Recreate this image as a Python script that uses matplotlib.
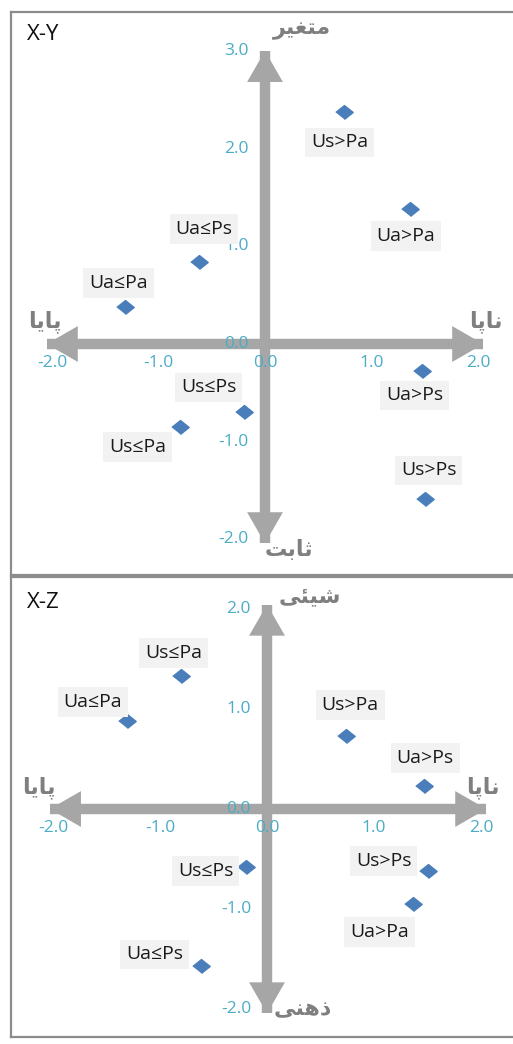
import matplotlib.pyplot as plt

# scores of the eight groups (X is shared by both panels)
names = ["Us>Pa", "Ua>Pa", "Ua≤Ps", "Ua≤Pa", "Ua>Ps", "Us≤Ps", "Us≤Pa", "Us>Ps"]
x_vals = [0.74, 1.36, -0.62, -1.31, 1.47, -0.20, -0.80, 1.50]
y_vals = [2.37, 1.38, 0.84, 0.38, -0.28, -0.70, -0.85, -1.59]
z_vals = [0.73, -0.95, -1.57, 0.88, 0.23, -0.58, 1.33, -0.62]

x_ticks = [-2.0, -1.0, 0.0, 1.0, 2.0]
y_ticks = [3.0, 2.0, 1.0, 0.0, -1.0, -2.0]
z_ticks = [2.0, 1.0, 0.0, -1.0, -2.0]

# pole names: left, right, top, bottom
xy_poles = ["پایا", "ناپا", "متغیر", "ثابت"]
xz_poles = ["پایا", "ناپا", "شیئی", "ذهنی"]

# label offsets from each point, in pixels (right, up)
xy_offsets = [(-4, -30), (-4, -27), (5, 33), (-7, 24), (-7, -24), (-35, 25), (-42, -20), (4, 29)]
xz_offsets = [(4, 31), (-33, -28), (-46, 12), (-34, 19), (1, 28), (-40, -4), (-8, 23), (-44, 10)]

AXIS_GRAY = '#a6a6a6'
TICK_BLUE = '#4bacc6'
POLE_GRAY = '#7f7f7f'
MARKER_BLUE = '#4a7ebb'

# (isolated, final, initial, medial)
FORMS = {
    'ا': ('\uFE8D', '\uFE8E', None, None),
    'ب': ('\uFE8F', '\uFE90', '\uFE91', '\uFE92'),
    'پ': ('\uFB56', '\uFB57', '\uFB58', '\uFB59'),
    'ت': ('\uFE95', '\uFE96', '\uFE97', '\uFE98'),
    'ث': ('\uFE99', '\uFE9A', '\uFE9B', '\uFE9C'),
    'ذ': ('\uFEAB', '\uFEAC', None, None),
    'ر': ('\uFEAD', '\uFEAE', None, None),
    'ش': ('\uFEB5', '\uFEB6', '\uFEB7', '\uFEB8'),
    'غ': ('\uFECD', '\uFECE', '\uFECF', '\uFED0'),
    'م': ('\uFEE1', '\uFEE2', '\uFEE3', '\uFEE4'),
    'ن': ('\uFEE5', '\uFEE6', '\uFEE7', '\uFEE8'),
    'ه': ('\uFEE9', '\uFEEA', '\uFEEB', '\uFEEC'),
    'ی': ('\uFBFC', '\uFBFD', '\uFBFE', '\uFBFF'),
    'ئ': ('\uFE89', '\uFE8A', '\uFE8B', '\uFE8C'),
}


def shape_fa(word):
    # matplotlib has no arabic shaping, so pick joined forms and reverse
    out = []
    n = len(word)
    for i, ch in enumerate(word):
        f = FORMS[ch]
        prev = i > 0 and FORMS[word[i - 1]][2] is not None
        nxt = i < n - 1 and f[2] is not None
        if prev and nxt:
            out.append(f[3])
        elif nxt:
            out.append(f[2])
        elif prev:
            out.append(f[1])
        else:
            out.append(f[0])
    return ''.join(reversed(out))


def draw_axis_arrow(ax, p0, p1, heads):
    ax.plot([p0[0], p1[0]], [p0[1], p1[1]], color=AXIS_GRAY, lw=7.5,
            solid_capstyle='butt', zorder=1)
    for tip, tail in heads:
        ax.annotate('', xy=tip, xytext=tail,
                    arrowprops=dict(arrowstyle='-|>,head_length=22.4,head_width=12.9',
                                    mutation_scale=1, lw=0, color=AXIS_GRAY,
                                    shrinkA=0, shrinkB=0), zorder=2)


def draw_panel(ax, xlim, ylim, yv, yt, poles, pole_pos, offsets, title, hx, vy):
    ax.set_xlim(xlim)
    ax.set_ylim(ylim)
    ax.set_xticks([])
    ax.set_yticks([])
    ax.spines['right'].set_visible(False)
    for s in ['left', 'top', 'bottom']:
        ax.spines[s].set_color('#8c8c8c')
        ax.spines[s].set_linewidth(1.6)

    # axes as gray double arrows
    draw_axis_arrow(ax, (hx[0], 0), (hx[1], 0),
                    [((hx[0], 0), (hx[0] + 0.5, 0)), ((hx[1], 0), (hx[1] - 0.5, 0))])
    draw_axis_arrow(ax, (0, vy[0]), (0, vy[1]),
                    [((0, vy[0]), (0, vy[0] + 0.5)), ((0, vy[1]), (0, vy[1] - 0.5))])

    for t in x_ticks:
        ax.annotate(f'{t:.1f}', (t, 0), xytext=(0, -19), textcoords='offset pixels',
                    ha='center', va='center', color=TICK_BLUE, fontsize=12.5,
                    family=['Open Sans', 'DejaVu Sans'], zorder=3)
    for t in yt:
        ax.annotate(f'{t:.1f}', (0, t), xytext=(-16, 0), textcoords='offset pixels',
                    ha='right', va='center', color=TICK_BLUE, fontsize=12.5,
                    family=['Open Sans', 'DejaVu Sans'], zorder=3)

    marker = [(-1, 0), (0, 0.8), (1, 0), (0, -0.8)]
    ax.plot(x_vals, yv, linestyle='none', marker=marker, ms=12.5, color=MARKER_BLUE, zorder=4)
    for name, xv, v, off in zip(names, x_vals, yv, offsets):
        ax.annotate(name, (xv, v), xytext=off, textcoords='offset pixels',
                    ha='center', va='center', fontsize=14, color='#1a1a1a',
                    family=['Open Sans', 'DejaVu Sans'],
                    bbox=dict(boxstyle='square,pad=0.3', fc='#f2f2f2', ec='none'), zorder=5)

    aligns = ['center', 'center', 'left', 'left']
    for word, pos, ha in zip(poles, pole_pos, aligns):
        ax.text(pos[0], pos[1], shape_fa(word), ha=ha, va='center', fontsize=16,
                color=POLE_GRAY, fontweight='bold',
                family=['DejaVu Sans'], zorder=3)

    ax.text(0.032, 0.96 if title == 'X-Y' else 0.945, title, transform=ax.transAxes,
            ha='left', va='center', fontsize=16, color='#111111',
            family=['Open Sans', 'DejaVu Sans'])


fig = plt.figure(figsize=(5.13, 10.44), dpi=100)
ax1 = fig.add_axes([11 / 513, 1 - 575 / 1044, 505 / 513, 563 / 1044])
ax2 = fig.add_axes([11 / 513, 1 - 1037 / 1044, 505 / 513, 460 / 1044])

draw_panel(ax1, (-2.385, 2.357), (-2.364, 3.398), y_vals, y_ticks, xy_poles,
           [(-2.07, 0.23), (2.07, 0.23), (0.07, 3.21), (0.0, -2.1)],
           xy_offsets, 'X-Y', (-2.05, 2.05), (-2.04, 3.0))
draw_panel(ax2, (-2.393, 2.327), (-2.275, 2.315), z_vals, z_ticks, xz_poles,
           [(-2.13, 0.21), (2.02, 0.21), (0.11, 2.12), (0.06, -2.0)],
           xz_offsets, 'X-Z', (-2.03, 2.05), (-2.04, 2.04))

fig.savefig('out.png', dpi=100)
